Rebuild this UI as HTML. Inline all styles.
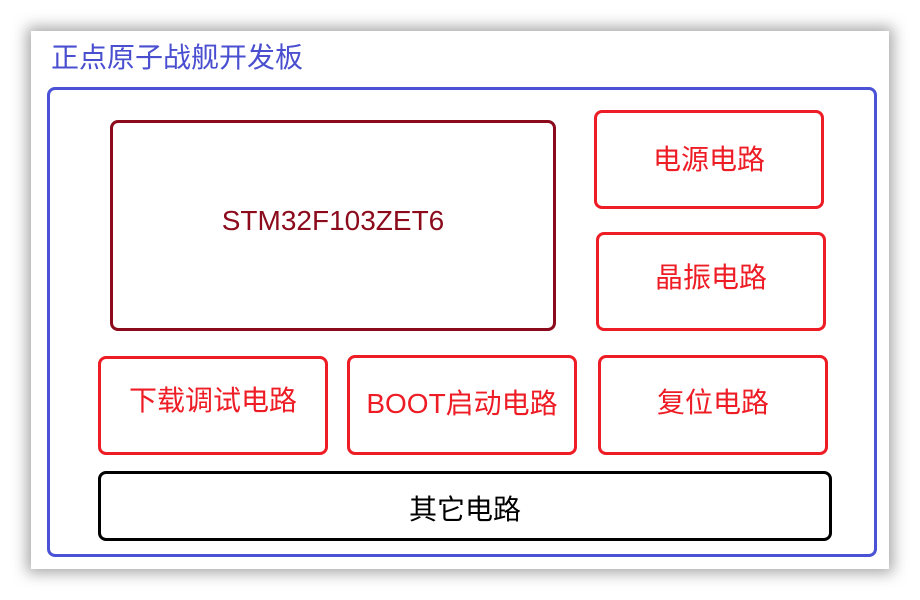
<!DOCTYPE html>
<html><head><meta charset="utf-8"><style>
html,body{margin:0;padding:0;background:#fff;}
body{width:920px;height:600px;position:relative;overflow:hidden;font-family:"Liberation Sans","Noto Sans CJK SC",sans-serif;}
.card{position:absolute;left:31px;top:31px;width:858px;height:538px;background:#fff;box-shadow:0 0 14px 4px rgba(0,0,0,0.35);}
.title{position:absolute;left:51px;top:40px;font-size:28px;color:#4a4fd0;line-height:36px;}
.blue{position:absolute;left:47px;top:87px;width:824px;height:464px;border:3px solid #4a52d6;border-radius:8px;}
.b{position:absolute;box-sizing:border-box;border:3px solid #ee1c25;border-radius:8px;color:#ee1c25;font-size:28px;display:flex;align-items:center;justify-content:center;}
</style></head><body>
<div class="card"></div>
<div class="title">正点原子战舰开发板</div>
<div class="blue"></div>
<div class="b" style="left:110px;top:120px;width:446px;height:211px;border-color:#8b0a1c;color:#8b0a1c;padding-bottom:10px;">STM32F103ZET6</div>
<div class="b" style="left:594px;top:110px;width:230px;height:99px;padding-bottom:4px;">电源电路</div>
<div class="b" style="left:596px;top:232px;width:230px;height:99px;padding-bottom:12px;">晶振电路</div>
<div class="b" style="left:98px;top:356px;width:230px;height:99px;padding-bottom:14px;">下载调试电路</div>
<div class="b" style="left:347px;top:355px;width:230px;height:100px;padding-bottom:6px;">BOOT启动电路</div>
<div class="b" style="left:598px;top:355px;width:230px;height:100px;padding-bottom:8px;">复位电路</div>
<div class="b" style="left:98px;top:471px;width:734px;height:70px;border-color:#000;color:#000;padding-top:4px;">其它电路</div>
</body></html>
